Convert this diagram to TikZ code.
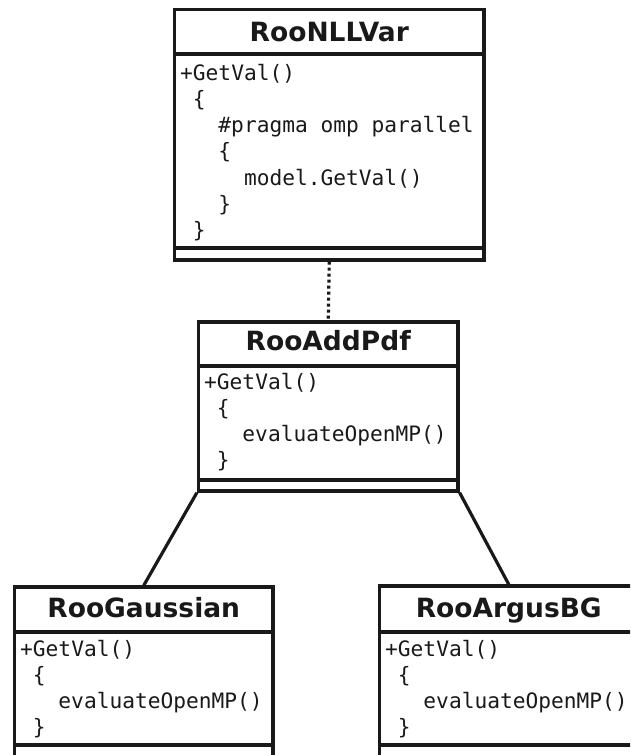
\documentclass[tikz,border=0pt]{standalone}
\usepackage{fontspec}
\newfontfamily\titlefont{DejaVu Sans}[BoldFont={DejaVu Sans Bold}]
\newfontfamily\codefont{DejaVu Sans Mono}
\begin{document}
\begin{tikzpicture}[x=1pt,y=-1pt,
  classbox/.style={draw=black!90, line width=3.2pt, inner sep=0pt},
  sepline/.style={draw=black!90, line width=3.2pt},
  title/.style={font=\titlefont\bfseries\fontsize{26.5}{26.5}\selectfont, text=black!90, anchor=base, inner sep=0pt},
  code/.style={font=\codefont\fontsize{21.2}{21.2}\selectfont, text=black!90, anchor=base west, inner sep=0pt},
  link/.style={draw=black!90, line width=3.2pt},
  dep/.style={draw=black!90, line width=3.2pt, dash pattern=on 3pt off 3pt}]
\useasboundingbox (0,0) rectangle (630,755);
\begin{scope}
\clip (0,0) rectangle (630,755);

% class frames
\node[classbox, minimum width=309.5pt, minimum height=250.5pt] (nll) at (329.25,134.75) {};
\node[classbox, minimum width=259.5pt, minimum height=169pt] (add) at (328.25,406.5) {};
\node[classbox, minimum width=258.5pt, minimum height=213pt] (gauss) at (143.75,693.5) {};
\node[classbox, minimum width=258.5pt, minimum height=214pt] (argus) at (508.75,693) {};

% compartment separators
\draw[sepline] (nll.west |- 0,54) -- (nll.east |- 0,54);
\draw[sepline] (nll.west |- 0,248) -- (nll.east |- 0,248);
\draw[sepline] (add.west |- 0,366) -- (add.east |- 0,366);
\draw[sepline] (add.west |- 0,480) -- (add.east |- 0,480);
\draw[sepline] (gauss.west |- 0,632) -- (gauss.east |- 0,632);
\draw[sepline] (gauss.west |- 0,745) -- (gauss.east |- 0,745);
\draw[sepline] (argus.west |- 0,632) -- (argus.east |- 0,632);
\draw[sepline] (argus.west |- 0,745) -- (argus.east |- 0,745);

% class names
\node[title] (nllname) at (329.25,41) {RooNLLVar};
\node[title] (addname) at (328.25,350) {RooAddPdf};
\node[title] (gaussname) at (143.75,617) {RooGaussian};
\node[title] (argusname) at (508.75,617) {RooArgusBG};

% methods of RooNLLVar
\node[code] (nll1) at (180,80) {+GetVal()};
\node[code] (nll2) at (180,106.25) {\hspace*{12.76pt}\{};
\node[code] (nll3) at (180,132.5) {\hspace*{38.28pt}\#pragma omp parallel};
\node[code] (nll4) at (180,158.75) {\hspace*{38.28pt}\{};
\node[code] (nll5) at (180,185) {\hspace*{63.8pt}model.GetVal()};
\node[code] (nll6) at (180,211.25) {\hspace*{38.28pt}\}};
\node[code] (nll7) at (180,237.5) {\hspace*{12.76pt}\}};

% methods of RooAddPdf
\node[code] (add1) at (204,389) {+GetVal()};
\node[code] (add2) at (204,415.25) {\hspace*{12.76pt}\{};
\node[code] (add3) at (204,441.5) {\hspace*{38.28pt}evaluateOpenMP()};
\node[code] (add4) at (204,467.75) {\hspace*{12.76pt}\}};

% methods of RooGaussian
\node[code] (gauss1) at (20,656) {+GetVal()};
\node[code] (gauss2) at (20,682.25) {\hspace*{12.76pt}\{};
\node[code] (gauss3) at (20,708.5) {\hspace*{38.28pt}evaluateOpenMP()};
\node[code] (gauss4) at (20,734.75) {\hspace*{12.76pt}\}};

% methods of RooArgusBG
\node[code] (argus1) at (385,656) {+GetVal()};
\node[code] (argus2) at (385,682.25) {\hspace*{12.76pt}\{};
\node[code] (argus3) at (385,708.5) {\hspace*{38.28pt}evaluateOpenMP()};
\node[code] (argus4) at (385,734.75) {\hspace*{12.76pt}\}};

% relations
\draw[dep] (nll.south) -- (add.north);
\draw[link] (add.south west) -- (gauss.north);
\draw[link] (add.south east) -- (argus.north);
\end{scope}
\end{tikzpicture}
\end{document}
